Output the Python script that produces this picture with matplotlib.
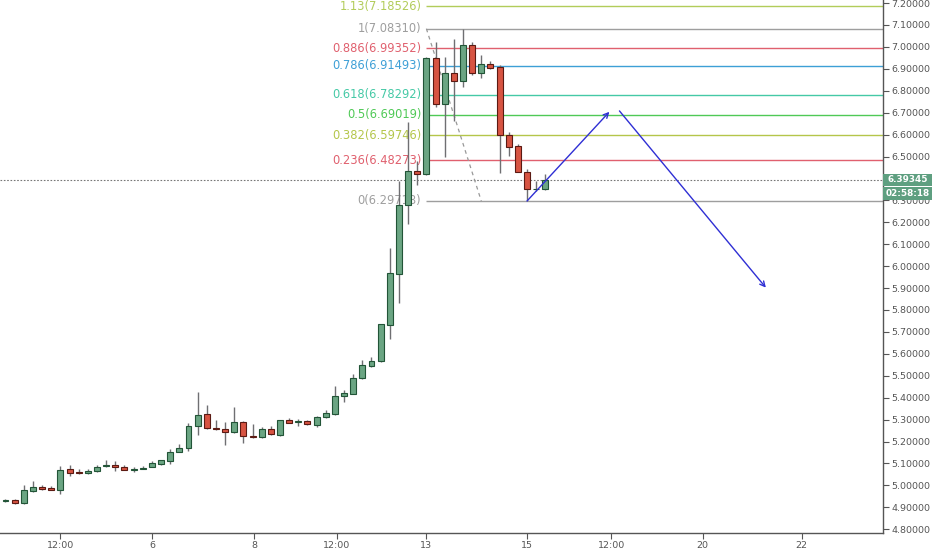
import matplotlib
matplotlib.use("Agg")
import matplotlib.pyplot as plt
from matplotlib.patches import Rectangle
import numpy as np

# OHLC candles
opens = [4.930, 4.935, 4.920, 4.975, 4.992, 4.988, 4.980, 5.073, 5.060, 5.055,
         5.065, 5.087, 5.091, 5.086, 5.072, 5.075, 5.085, 5.099, 5.112, 5.152,
         5.170, 5.270, 5.324, 5.262, 5.258, 5.243, 5.290, 5.227, 5.220, 5.255,
         5.232, 5.296, 5.290, 5.292, 5.275, 5.310, 5.327, 5.407, 5.418, 5.490,
         5.544, 5.567, 5.733, 5.966, 6.281, 6.433, 6.420, 6.948, 6.739, 6.879,
         6.844, 7.009, 6.882, 6.922, 6.910, 6.598, 6.547, 6.430, 6.350, 6.350]
highs = [4.940, 4.940, 5.000, 5.018, 5.003, 4.996, 5.090, 5.094, 5.076, 5.075,
         5.095, 5.115, 5.112, 5.094, 5.086, 5.088, 5.112, 5.118, 5.164, 5.190,
         5.284, 5.424, 5.368, 5.296, 5.287, 5.357, 5.292, 5.280, 5.266, 5.270,
         5.299, 5.309, 5.305, 5.296, 5.316, 5.342, 5.452, 5.433, 5.506, 5.570,
         5.585, 5.738, 6.085, 6.388, 6.656, 6.478, 6.953, 7.024, 6.956, 7.035,
         7.0831, 7.021, 6.963, 6.937, 6.916, 6.613, 6.557, 6.442, 6.389, 6.420]
lows = [4.925, 4.915, 4.913, 4.970, 4.980, 4.979, 4.962, 5.041, 5.050, 5.051,
        5.062, 5.085, 5.066, 5.068, 5.063, 5.073, 5.082, 5.094, 5.099, 5.150,
        5.156, 5.232, 5.257, 5.253, 5.182, 5.240, 5.193, 5.217, 5.217, 5.230,
        5.227, 5.283, 5.270, 5.274, 5.266, 5.306, 5.322, 5.380, 5.415, 5.487,
        5.540, 5.564, 5.668, 5.832, 6.190, 6.370, 6.418, 6.724, 6.499, 6.663,
        6.815, 6.870, 6.859, 6.900, 6.423, 6.504, 6.428, 6.29718, 6.344, 6.346]
closes = [4.935, 4.920, 4.977, 4.992, 4.984, 4.981, 5.071, 5.057, 5.057, 5.067,
          5.086, 5.091, 5.082, 5.071, 5.076, 5.077, 5.100, 5.114, 5.153, 5.172,
          5.270, 5.322, 5.260, 5.257, 5.245, 5.290, 5.227, 5.221, 5.255, 5.234,
          5.296, 5.286, 5.293, 5.278, 5.310, 5.330, 5.407, 5.421, 5.491, 5.547,
          5.567, 5.735, 5.969, 6.278, 6.433, 6.420, 6.948, 6.739, 6.879, 6.844,
          7.009, 6.882, 6.922, 6.906, 6.598, 6.544, 6.430, 6.350, 6.352, 6.39345]

last_price = 6.39345
countdown = "02:58:18"

# Fibonacci retracement levels
fib_ratios = ["1.13", "1", "0.886", "0.786", "0.618", "0.5", "0.382", "0.236", "0"]
fib_prices = [7.18526, 7.08310, 6.99352, 6.91493, 6.78292, 6.69019, 6.59746, 6.48273, 6.29718]
fib_colors = ["#b2cc5a", "#9e9e9e", "#e0606e", "#3d9fd6", "#45c9a6",
              "#4fc956", "#b4c64a", "#e0606e", "#9e9e9e"]
fib_start = 46
fib_trend_x = [46, 52]
fib_trend_y = [7.08310, 6.29718]

# hand drawn projection arrows (start x, start y, end x, end y)
arrows = [(57, 6.29718, 66, 6.704), (67.1, 6.708, 83.1, 5.902)]

tick_pos = [6, 16, 27.2, 36.2, 46, 57, 66.2, 76.2, 87]
tick_labels = ["12:00", "6", "8", "12:00", "13", "15", "12:00", "20", "22"]

up_fill, up_edge = "#6ba583", "#225437"
dn_fill, dn_edge = "#d75442", "#5b1a13"
axis_col = "#555555"
tag_col = "#5e9f80"

fig = plt.figure(figsize=(9.32, 5.5), dpi=100)
ax = fig.add_axes([0, 0.031, 0.9474, 0.969])

x = np.arange(len(opens))
o = np.array(opens)
c = np.array(closes)
up = c >= o

# candles
ax.vlines(x, lows, highs, color="#6f6f72", linewidth=1, zorder=3)
body = np.maximum(np.abs(c - o), 0.003)
bottom = np.minimum(o, c)
ax.bar(x[up], body[up], bottom=bottom[up], width=0.65,
       color=up_fill, edgecolor=up_edge, linewidth=0.8, zorder=4)
ax.bar(x[~up], body[~up], bottom=bottom[~up], width=0.65,
       color=dn_fill, edgecolor=dn_edge, linewidth=0.8, zorder=4)

# fib levels
for r, p, col in zip(fib_ratios, fib_prices, fib_colors):
    ax.hlines(p, fib_start, 95.9, color=col, linewidth=1, zorder=2)
    ax.text(fib_start - 0.55, p, f"{r}({p:.5f})", color=col, fontsize=8.3,
            ha="right", va="center", zorder=1)
ax.plot(fib_trend_x, fib_trend_y, color="#999999", linestyle=(0, (3, 3)),
        linewidth=0.9, zorder=2)

for x0, y0, x1, y1 in arrows:
    ax.annotate("", xy=(x1, y1), xytext=(x0, y0),
                arrowprops=dict(arrowstyle="->", color="#2f2fd4", lw=1,
                                shrinkA=0, shrinkB=0, mutation_scale=9),
                zorder=6)

# current price line
ax.axhline(last_price, color="#777777", linestyle=(0, (1.5, 1.5)), linewidth=0.8, zorder=1)

ax.set_xlim(-0.6, 95.9)
ax.set_ylim(4.783, 7.214)

yt = np.round(np.arange(4.8, 7.21, 0.1), 1)
ax.yaxis.tick_right()
ax.set_yticks(yt)
# 6.4 is hidden under the price tag
ax.set_yticklabels(["" if abs(v - 6.4) < 1e-6 else f"{v:.5f}" for v in yt])
ax.set_xticks(tick_pos)
ax.set_xticklabels(tick_labels)
ax.tick_params(axis="both", colors=axis_col, labelsize=6.8, length=4, width=0.8)
ax.tick_params(axis="y", pad=2)
ax.tick_params(axis="x", pad=2)
for s in ["left", "top"]:
    ax.spines[s].set_visible(False)
for s in ["right", "bottom"]:
    ax.spines[s].set_color(axis_col)
    ax.spines[s].set_linewidth(1)

# price / countdown tags on the axis
trans = ax.get_yaxis_transform()
tag_h = 0.058
tag_w = 0.0555
for txt, k in [(f"{last_price:.5f}", 0), (countdown, 1)]:
    yc = last_price - k * (tag_h + 0.004)
    ax.add_patch(Rectangle((1.0, yc - tag_h / 2), tag_w, tag_h, transform=trans,
                           facecolor=tag_col, edgecolor="none", clip_on=False, zorder=10))
    ax.text(1.0 + tag_w / 2, yc, txt, transform=trans, ha="center", va="center",
            color="white", fontsize=6.4, fontweight="bold", clip_on=False, zorder=11)

fig.savefig("out.png", dpi=100)
